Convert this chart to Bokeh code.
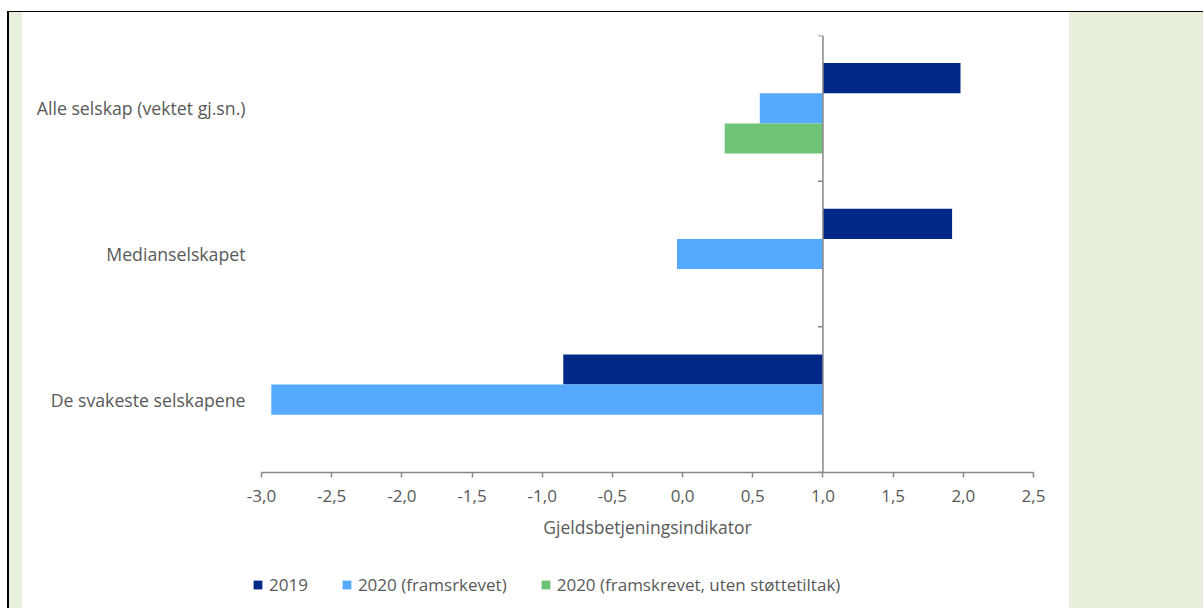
from bokeh.plotting import figure
from bokeh.models import (Range1d, FactorRange, FixedTicker, CustomJSTickFormatter,
                          Span, Div, ColumnDataSource, Legend, LegendItem)
from bokeh.layouts import row, column
from bokeh.transform import dodge
from bokeh.embed import file_html
from bokeh.resources import INLINE

# ---- data ----
categories = ["Alle selskap (vektet gj.sn.)", "Medianselskapet", "De svakeste selskapene"]
series_names = ["2019", "2020 (framsrkevet)", "2020 (framskrevet, uten støttetiltak)"]
v2019 = [1.98, 1.92, -0.85]
v2020 = [0.55, -0.04, -2.93]
v2020_uten = [0.30, float("nan"), float("nan")]
x_ticks = [-3.0, -2.5, -2.0, -1.5, -1.0, -0.5, 0.0, 0.5, 1.0, 1.5, 2.0, 2.5]
base_value = 1.0

# ---- styles ----
FONT = "Open Sans"
TEXT = "#595959"
AXIS = "#878787"
GREEN_BG = "#e8f0dd"
colors = ["#002987", "#55a9ff", "#6fc376"]
BORDER_L, BORDER_R = 239, 36

factors = list(reversed(categories))  # bottom to top
p = figure(width=1047, height=548, output_backend="svg", toolbar_location=None,
           x_range=Range1d(x_ticks[0], x_ticks[-1]), y_range=FactorRange(*factors),
           min_border_left=BORDER_L, min_border_right=BORDER_R, min_border_top=23,
           min_border_bottom=88)
p.y_range.range_padding = 0
p.outline_line_color = None
p.grid.grid_line_color = None
p.background_fill_color = "white"
p.border_fill_color = "white"

source = ColumnDataSource(dict(cat=categories, v2019=v2019, v2020=v2020, v2020_uten=v2020_uten))
bar_h = 0.207
for i, col in enumerate(["v2019", "v2020", "v2020_uten"]):
    p.hbar(y=dodge("cat", bar_h * (1 - i), range=p.y_range), left=col, right=base_value,
           height=bar_h, source=source, fill_color=colors[i], line_color=None)

# vertical axis at 1.0
p.add_layout(Span(location=base_value, dimension="height", line_color=AXIS, line_width=1.5))
bounds = list(range(len(categories) + 1))
p.ray(x=[base_value] * len(bounds), y=bounds, length=5, length_units="screen",
      angle=3.14159265, line_color=AXIS, line_width=1.5)

# x axis
xa = p.xaxis[0]
xa.ticker = FixedTicker(ticks=x_ticks)
xa.formatter = CustomJSTickFormatter(code="return tick.toFixed(1).replace('.', ',')")
xa.axis_line_color = AXIS
xa.axis_line_width = 1.5
xa.major_tick_line_color = AXIS
xa.major_tick_line_width = 1.5
xa.major_tick_out = 5
xa.major_tick_in = 0
xa.minor_tick_line_color = None
xa.major_label_text_font = FONT
xa.major_label_text_font_size = "17px"
xa.major_label_text_color = TEXT
xa.major_label_standoff = 12
xa.axis_label = "Gjeldsbetjeningsindikator"
xa.axis_label_text_font = FONT
xa.axis_label_text_font_size = "17.5px"
xa.axis_label_text_font_style = "normal"
xa.axis_label_text_color = TEXT
xa.axis_label_standoff = 10

ya = p.yaxis[0]
ya.axis_line_color = None
ya.major_tick_line_color = None
ya.minor_tick_line_color = None
ya.major_tick_out = 0
ya.major_tick_in = 0
ya.major_label_standoff = 16
ya.major_label_text_font = FONT
ya.major_label_text_font_size = "17.7px"
ya.major_label_text_color = TEXT

# ---- legend strip (separate small figure) ----
pl = figure(width=1047, height=48, output_backend="svg", toolbar_location=None,
            x_range=Range1d(0, 1), y_range=Range1d(0, 1), x_axis_type=None, y_axis_type=None,
            min_border_left=230, min_border_right=BORDER_R, min_border_top=0,
            min_border_bottom=0)
pl.outline_line_color = None
pl.grid.grid_line_color = None
pl.background_fill_color = "white"
pl.border_fill_color = "white"
legend_src = ColumnDataSource(dict(y=[float("nan")], l=[float("nan")], r=[float("nan")]))
items = []
for name, c in zip(series_names, colors):
    r = pl.hbar(y="y", left="l", right="r", height=1, source=legend_src,
                fill_color=c, line_color=None)
    items.append(LegendItem(label=name, renderers=[r]))
lg = Legend(items=items, orientation="horizontal", location=(0, 12), padding=0, margin=0,
            spacing=33, glyph_width=11, glyph_height=11, label_standoff=6,
            label_text_font=FONT, label_text_font_size="17px", label_text_color=TEXT,
            border_line_color=None, background_fill_alpha=0)
pl.add_layout(lg, "center")


def block(w, h, color):
    return Div(text="", width=w, height=h, margin=0,
               styles={"background-color": color})


def framed(fig, h):
    return row(block(7, h, "white"), block(2, h, "black"), block(13, h, GREEN_BG), fig,
               block(134, h, GREEN_BG), spacing=0)


layout = column(
    block(1203, 11, "white"),
    row(block(7, 1, "white"), block(1196, 1, "black"), spacing=0),
    framed(p, 548),
    framed(pl, 48),
    spacing=0,
)

open("out.html", "w").write(file_html(layout, INLINE))
